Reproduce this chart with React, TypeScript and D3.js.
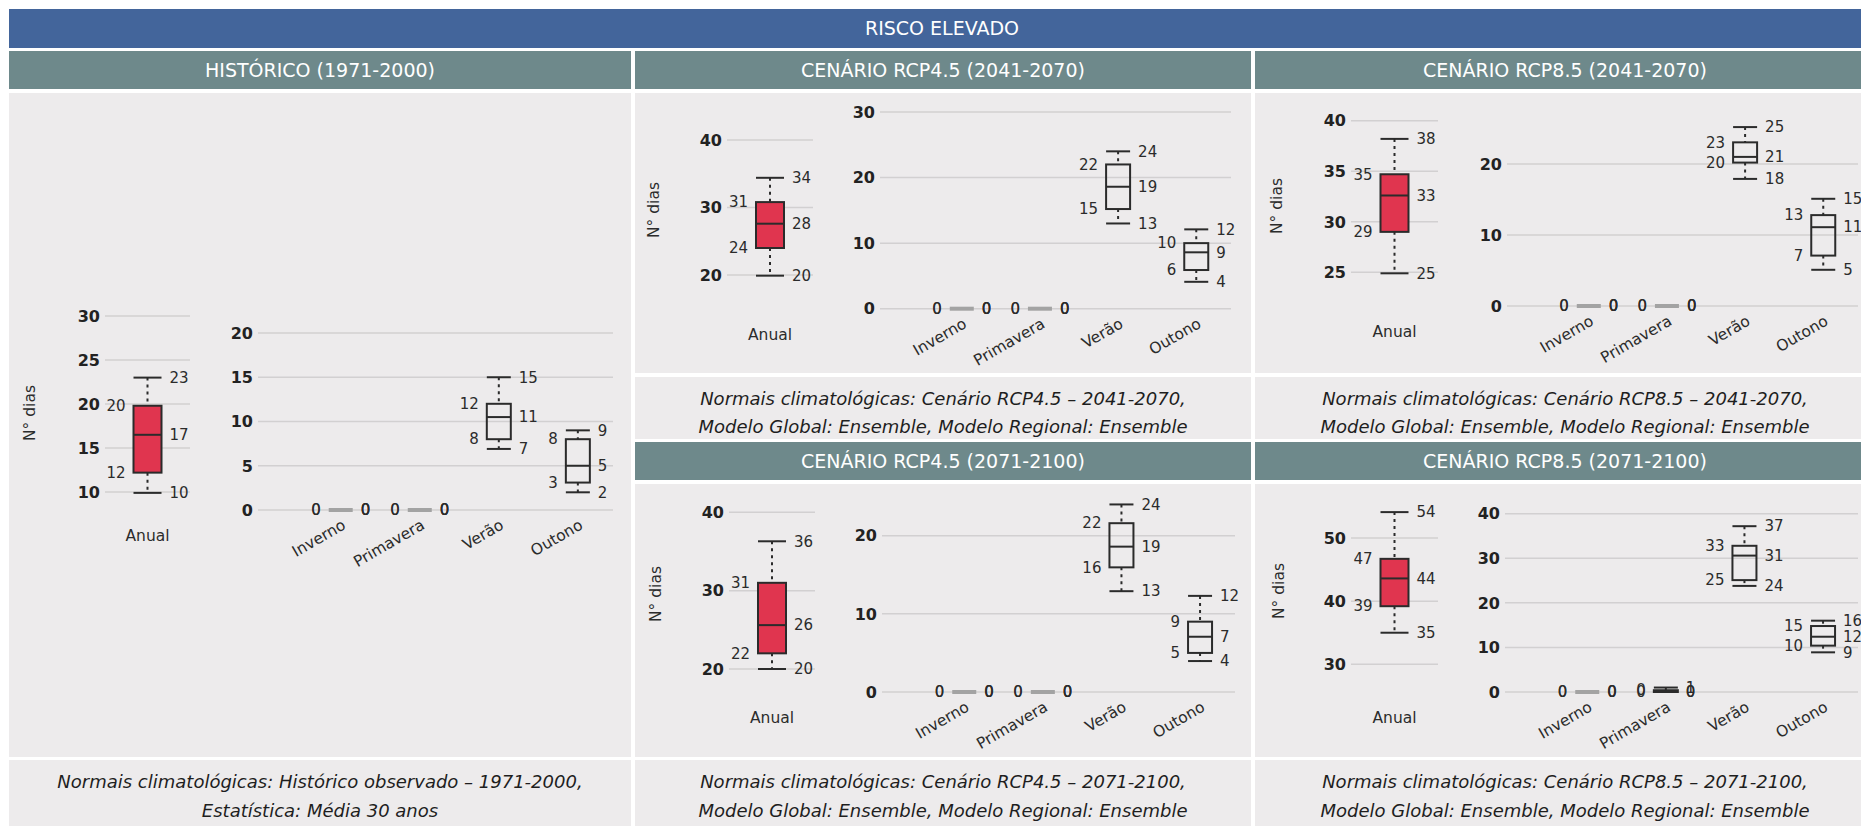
import React from 'react';
import * as d3 from 'd3';

const seasons = ['Inverno', 'Primavera', 'Verão', 'Outono'];

// each box: [min, q1, median, q3, max]
const histAnual = [9.9, 12.2, 16.5, 19.8, 23];
const histSazonal = [[0, 0, 0, 0, 0], [0, 0, 0, 0, 0], [6.9, 8, 10.5, 12, 15], [2, 3.1, 5, 8, 9]];
const histAnualTicks = [10, 15, 20, 25, 30];
const histSazonalTicks = [0, 5, 10, 15, 20];

const rcp45aAnual = [19.9, 24, 27.6, 30.8, 34.4];
const rcp45aSazonal = [[0, 0, 0, 0, 0], [0, 0, 0, 0, 0], [13, 15.2, 18.6, 22, 24], [4.1, 5.9, 8.6, 10, 12.1]];
const rcp45aAnualTicks = [20, 30, 40];
const rcp45aSazonalTicks = [0, 10, 20, 30];

const rcp85aAnual = [24.9, 29, 32.6, 34.7, 38.2];
const rcp85aSazonal = [[0, 0, 0, 0, 0], [0, 0, 0, 0, 0], [17.9, 20.2, 21, 23.05, 25.2], [5.1, 7.1, 11.1, 12.8, 15.1]];
const rcp85aAnualTicks = [25, 30, 35, 40];
const rcp85aSazonalTicks = [0, 10, 20];

const rcp45bAnual = [20, 22, 25.6, 31, 36.3];
const rcp45bSazonal = [[0, 0, 0, 0, 0], [0, 0, 0, 0, 0], [12.9, 15.95, 18.6, 21.6, 24], [3.96, 5, 7.07, 9, 12.3]];
const rcp45bAnualTicks = [20, 30, 40];
const rcp45bSazonalTicks = [0, 10, 20];

const rcp85bAnual = [35, 39.2, 43.6, 46.7, 54.1];
const rcp85bSazonal = [[0, 0, 0, 0, 0], [0, 0, 0, 0.4, 1], [23.8, 25.1, 30.6, 32.8, 37.2], [8.9, 10.4, 12.4, 14.8, 16]];
const rcp85bAnualTicks = [30, 40, 50];
const rcp85bSazonalTicks = [0, 10, 20, 30, 40];

const mainTitle = 'RISCO ELEVADO';
const headers = [
  'HISTÓRICO (1971-2000)',
  'CENÁRIO RCP4.5 (2041-2070)',
  'CENÁRIO RCP8.5 (2041-2070)',
  'CENÁRIO RCP4.5 (2071-2100)',
  'CENÁRIO RCP8.5 (2071-2100)',
];
const captions = [
  ['Normais climatológicas: Histórico observado – 1971-2000,', 'Estatística: Média 30 anos'],
  ['Normais climatológicas: Cenário RCP4.5 – 2041-2070,', 'Modelo Global: Ensemble, Modelo Regional: Ensemble'],
  ['Normais climatológicas: Cenário RCP8.5 – 2041-2070,', 'Modelo Global: Ensemble, Modelo Regional: Ensemble'],
  ['Normais climatológicas: Cenário RCP4.5 – 2071-2100,', 'Modelo Global: Ensemble, Modelo Regional: Ensemble'],
  ['Normais climatológicas: Cenário RCP8.5 – 2071-2100,', 'Modelo Global: Ensemble, Modelo Regional: Ensemble'],
];

const W = 1861;
const H = 826;
const FONT = "'DejaVu Sans', sans-serif";
const BLUE = '#43659b';
const HEAD = '#6e898b';
const BG = '#edebec';
const RED = '#e0354f';
const INK = '#2b2b2b';
const cols = [[9, 631], [635, 1251], [1255, 1875]];

// layout of each chart panel (pixel placement only)
const charts = [
  { anual: histAnual, saz: histSazonal, aTicks: histAnualTicks, sTicks: histSazonalTicks,
    aDom: [10, 30], aRng: [492, 316], ax: [105, 190], sDom: [0, 20], sRng: [510, 333], sx: [258, 613], ndias: [30, 413] },
  { anual: rcp45aAnual, saz: rcp45aSazonal, aTicks: rcp45aAnualTicks, sTicks: rcp45aSazonalTicks,
    aDom: [20, 40], aRng: [275, 140], ax: [727, 813], sDom: [0, 30], sRng: [308.7, 112], sx: [880, 1231], ndias: [654, 210] },
  { anual: rcp85aAnual, saz: rcp85aSazonal, aTicks: rcp85aAnualTicks, sTicks: rcp85aSazonalTicks,
    aDom: [25, 40], aRng: [272.3, 120.7], ax: [1351, 1438], sDom: [0, 20], sRng: [306, 164], sx: [1507, 1858], ndias: [1277, 206] },
  { anual: rcp45bAnual, saz: rcp45bSazonal, aTicks: rcp45bAnualTicks, sTicks: rcp45bSazonalTicks,
    aDom: [20, 40], aRng: [669, 512.3], ax: [729, 815], sDom: [0, 20], sRng: [692, 535.7], sx: [882, 1235], ndias: [656, 594] },
  { anual: rcp85bAnual, saz: rcp85bSazonal, aTicks: rcp85bAnualTicks, sTicks: rcp85bSazonalTicks,
    aDom: [30, 50], aRng: [664.3, 538], ax: [1351, 1438], sDom: [0, 40], sRng: [692, 513.7], sx: [1505, 1858], ndias: [1279, 591] },
];

const Box = ({ cx, y, v, w, fill }: { cx: number; y: d3.ScaleLinear<number, number>; v: number[]; w: number; fill: string }) => {
  const [mn, q1, md, q3, mx] = v;
  const left = cx - w / 2;
  const right = cx + w / 2;
  const lab = (val: number, side: 'l' | 'r', k: string) => (
    <text key={k} x={side === 'l' ? left - 8 : right + 8} y={y(val)} dy="0.35em"
      textAnchor={side === 'l' ? 'end' : 'start'} fontSize={15} fill={INK}>{Math.round(val)}</text>
  );
  const labels = [lab(q3, 'l', 'q3'), lab(q1, 'l', 'q1'), lab(mx, 'r', 'mx'), lab(md, 'r', 'md'), lab(mn, 'r', 'mn')];
  if (mx - mn < 0.01) {
    return (
      <g>
        <rect x={left} y={y(mn) - 2} width={w} height={4} fill="#a3a3a3" />
        {labels}
      </g>
    );
  }
  return (
    <g>
      <line x1={cx} x2={cx} y1={y(mx)} y2={y(q3)} stroke={INK} strokeWidth={2} strokeDasharray="3,4" />
      <line x1={cx} x2={cx} y1={y(q1)} y2={y(mn)} stroke={INK} strokeWidth={2} strokeDasharray="3,4" />
      <line x1={left} x2={right} y1={y(mx)} y2={y(mx)} stroke={INK} strokeWidth={2} />
      <line x1={left} x2={right} y1={y(mn)} y2={y(mn)} stroke={INK} strokeWidth={2} />
      <rect x={left} y={y(q3)} width={w} height={Math.max(0.5, y(q1) - y(q3))} fill={fill} stroke={INK} strokeWidth={2} />
      <line x1={left} x2={right} y1={y(md)} y2={y(md)} stroke={INK} strokeWidth={2} />
      {labels}
    </g>
  );
};

const Chart = ({ c }: { c: typeof charts[number] }) => {
  const ya = d3.scaleLinear().domain(c.aDom).range(c.aRng);
  const ys = d3.scaleLinear().domain(c.sDom).range(c.sRng);
  const sw = c.sx[1] - c.sx[0];
  const xs = d3.scalePoint<string>().domain(seasons).range([c.sx[0] + 0.233 * sw, c.sx[0] + 0.901 * sw]);
  const acx = (c.ax[0] + c.ax[1]) / 2;
  const zeroY = ys(0);
  return (
    <g fontFamily={FONT}>
      {c.aTicks.map((t) => (
        <g key={'a' + t}>
          <line x1={c.ax[0]} x2={c.ax[1]} y1={ya(t)} y2={ya(t)} stroke="#d2d0d1" strokeWidth={1.5} />
          <text x={c.ax[0] - 5} y={ya(t)} dy="0.36em" textAnchor="end" fontSize={16} fontWeight="bold" fill="#222">{t}</text>
        </g>
      ))}
      {c.sTicks.map((t) => (
        <g key={'s' + t}>
          <line x1={c.sx[0]} x2={c.sx[1]} y1={ys(t)} y2={ys(t)} stroke="#d2d0d1" strokeWidth={1.5} />
          <text x={c.sx[0] - 5} y={ys(t)} dy="0.36em" textAnchor="end" fontSize={16} fontWeight="bold" fill="#222">{t}</text>
        </g>
      ))}
      <text transform={`translate(${c.ndias[0]},${c.ndias[1]}) rotate(-90)`} dy="0.35em" textAnchor="middle" fontSize={15.5} fill={INK}>N° dias</text>
      <Box cx={acx} y={ya} v={c.anual} w={28} fill={RED} />
      <text x={acx} y={zeroY + 26} dy="0.35em" textAnchor="middle" fontSize={15.5} fill={INK}>Anual</text>
      {seasons.map((s, i) => (
        <g key={s}>
          <Box cx={xs(s)!} y={ys} v={c.saz[i]} w={24} fill="none" />
          <text transform={`translate(${xs(s)! + 6},${zeroY + 18}) rotate(-30)`} textAnchor="end" fontSize={15.5} fill={INK}>{s}</text>
        </g>
      ))}
    </g>
  );
};

const Header = ({ x0, x1, y0, y1, fill, text }: { x0: number; x1: number; y0: number; y1: number; fill: string; text: string }) => (
  <g>
    <rect x={x0} y={y0} width={x1 - x0} height={y1 - y0} fill={fill} />
    <text x={(x0 + x1) / 2} y={(y0 + y1) / 2} dy="0.36em" textAnchor="middle" fontSize={19} fill="#fff" fontFamily={FONT}>{text}</text>
  </g>
);

const Caption = ({ x0, x1, y0, y1, lines, ly }: { x0: number; x1: number; y0: number; y1: number; lines: string[]; ly: number[] }) => (
  <g>
    <rect x={x0} y={y0} width={x1 - x0} height={y1 - y0} fill={BG} />
    {lines.map((l, i) => (
      <text key={i} x={(x0 + x1) / 2} y={ly[i]} dy="0.35em" textAnchor="middle" fontSize={18} fontStyle="italic" fill="#1e1e1e" fontFamily={FONT}>{l}</text>
    ))}
  </g>
);

export default function App() {
  return (
    <div style={{ position: 'fixed', left: 0, top: 0, width: W, height: H, overflow: 'hidden', background: '#fff' }}>
      <svg width={W} height={H} style={{ display: 'block' }}>
        <rect width={W} height={H} fill="#fff" />
        <Header x0={9} x1={1875} y0={9} y1={48} fill={BLUE} text={mainTitle} />
        {/* column 1: historical */}
        <Header x0={cols[0][0]} x1={cols[0][1]} y0={51} y1={89} fill={HEAD} text={headers[0]} />
        <rect x={cols[0][0]} y={93} width={cols[0][1] - cols[0][0]} height={664} fill={BG} />
        <Caption x0={cols[0][0]} x1={cols[0][1]} y0={760} y1={840} lines={captions[0]} ly={[782, 811]} />
        {/* columns 2 and 3: scenarios */}
        {[1, 2].map((ci) => (
          <g key={ci}>
            <Header x0={cols[ci][0]} x1={cols[ci][1]} y0={51} y1={89} fill={HEAD} text={headers[ci]} />
            <rect x={cols[ci][0]} y={93} width={cols[ci][1] - cols[ci][0]} height={280} fill={BG} />
            <Caption x0={cols[ci][0]} x1={cols[ci][1]} y0={377} y1={439} lines={captions[ci]} ly={[399, 427]} />
            <Header x0={cols[ci][0]} x1={cols[ci][1]} y0={442} y1={480} fill={HEAD} text={headers[ci + 2]} />
            <rect x={cols[ci][0]} y={484} width={cols[ci][1] - cols[ci][0]} height={273} fill={BG} />
            <Caption x0={cols[ci][0]} x1={cols[ci][1]} y0={760} y1={840} lines={captions[ci + 2]} ly={[782, 811]} />
          </g>
        ))}
        {charts.map((c, i) => <Chart key={i} c={c} />)}
      </svg>
    </div>
  );
}
